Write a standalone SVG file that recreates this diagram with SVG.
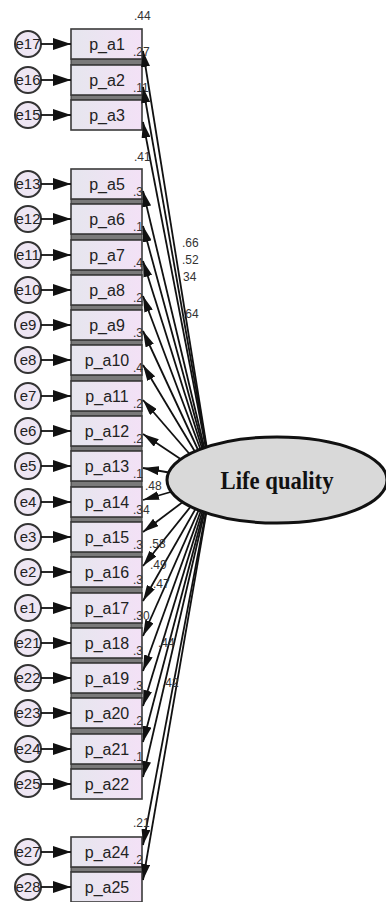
<svg xmlns="http://www.w3.org/2000/svg" width="386" height="902" viewBox="0 0 386 902">
<style>
.bx{fill:url(#bg);stroke:#3a3a3a;stroke-width:1.6}
.gp{fill:#7a7a7a;stroke:#333;stroke-width:1}
.bt{font-family:"Liberation Sans",Arial,sans-serif;font-size:16px;fill:#222;text-anchor:middle}
.ec{fill:#eee6f3;stroke:#333;stroke-width:2}
.et{font-family:"Liberation Sans",Arial,sans-serif;font-size:15px;fill:#222;text-anchor:middle}
.ea{stroke:#111;stroke-width:1.8;fill:none;marker-end:url(#big)}
.pl{stroke:#111;stroke-width:1.8;fill:none;marker-end:url(#pa)}
.sm{font-family:"Liberation Sans",Arial,sans-serif;font-size:12px;fill:#333}
</style>
<defs>
<linearGradient id="bg" x1="0" y1="0" x2="1" y2="0">
<stop offset="0" stop-color="#e6e6ee"/>
<stop offset="1" stop-color="#f3e1f6"/>
</linearGradient>
<marker id="big" viewBox="0 0 18 12" refX="18" refY="6" markerWidth="18" markerHeight="12" markerUnits="userSpaceOnUse" orient="auto">
<path d="M0,0 L18,6 L0,12 z" fill="#111"/>
</marker>
<marker id="pa" viewBox="0 0 16 9" refX="16" refY="4.5" markerWidth="16" markerHeight="9" markerUnits="userSpaceOnUse" orient="auto">
<path d="M0,0 L16,4.5 L0,9 z" fill="#111"/>
</marker>
</defs>

<g id="gaps">
<rect class="gp" x="71" y="59" width="71" height="6"/>
<rect class="gp" x="71" y="95" width="71" height="5"/>
<rect class="gp" x="71" y="199" width="71" height="5"/>
<rect class="gp" x="71" y="234" width="71" height="6"/>
<rect class="gp" x="71" y="270" width="71" height="5"/>
<rect class="gp" x="71" y="305" width="71" height="5"/>
<rect class="gp" x="71" y="340" width="71" height="5"/>
<rect class="gp" x="71" y="375" width="71" height="6"/>
<rect class="gp" x="71" y="411" width="71" height="5"/>
<rect class="gp" x="71" y="446" width="71" height="5"/>
<rect class="gp" x="71" y="481" width="71" height="6"/>
<rect class="gp" x="71" y="517" width="71" height="5"/>
<rect class="gp" x="71" y="552" width="71" height="5"/>
<rect class="gp" x="71" y="587" width="71" height="6"/>
<rect class="gp" x="71" y="623" width="71" height="5"/>
<rect class="gp" x="71" y="658" width="71" height="5"/>
<rect class="gp" x="71" y="693" width="71" height="5"/>
<rect class="gp" x="71" y="728" width="71" height="6"/>
<rect class="gp" x="71" y="764" width="71" height="5"/>
<rect class="gp" x="71" y="867" width="71" height="5"/>
</g>

<g id="p_a1"><rect class="bx" x="71" y="29" width="71" height="30"/><text class="bt" x="107" y="50">p_a1</text><text class="sm" x="133" y="56">.27</text></g>
<g id="p_a2"><rect class="bx" x="71" y="65" width="71" height="30"/><text class="bt" x="107" y="86">p_a2</text><text class="sm" x="133" y="92">.11</text></g>
<g id="p_a3"><rect class="bx" x="71" y="100" width="71" height="30"/><text class="bt" x="107" y="121">p_a3</text></g>
<g id="p_a5"><rect class="bx" x="71" y="169" width="71" height="30"/><text class="bt" x="107" y="190">p_a5</text><text class="sm" x="133" y="196">.3</text></g>
<g id="p_a6"><rect class="bx" x="71" y="204" width="71" height="30"/><text class="bt" x="107" y="225">p_a6</text><text class="sm" x="133" y="231">.1</text></g>
<g id="p_a7"><rect class="bx" x="71" y="240" width="71" height="30"/><text class="bt" x="107" y="261">p_a7</text><text class="sm" x="133" y="267">.4</text></g>
<g id="p_a8"><rect class="bx" x="71" y="275" width="71" height="30"/><text class="bt" x="107" y="296">p_a8</text><text class="sm" x="133" y="302">.2</text></g>
<g id="p_a9"><rect class="bx" x="71" y="310" width="71" height="30"/><text class="bt" x="107" y="331">p_a9</text><text class="sm" x="133" y="337">.3</text></g>
<g id="p_a10"><rect class="bx" x="71" y="345" width="71" height="30"/><text class="bt" x="107" y="366">p_a10</text><text class="sm" x="133" y="372">.4</text></g>
<g id="p_a11"><rect class="bx" x="71" y="381" width="71" height="30"/><text class="bt" x="107" y="402">p_a11</text><text class="sm" x="133" y="408">.2</text></g>
<g id="p_a12"><rect class="bx" x="71" y="416" width="71" height="30"/><text class="bt" x="107" y="437">p_a12</text><text class="sm" x="133" y="443">.2</text></g>
<g id="p_a13"><rect class="bx" x="71" y="451" width="71" height="30"/><text class="bt" x="107" y="472">p_a13</text><text class="sm" x="133" y="478">.1</text></g>
<g id="p_a14"><rect class="bx" x="71" y="487" width="71" height="30"/><text class="bt" x="107" y="508">p_a14</text><text class="sm" x="133" y="514">.34</text></g>
<g id="p_a15"><rect class="bx" x="71" y="522" width="71" height="30"/><text class="bt" x="107" y="543">p_a15</text><text class="sm" x="133" y="549">.3</text></g>
<g id="p_a16"><rect class="bx" x="71" y="557" width="71" height="30"/><text class="bt" x="107" y="578">p_a16</text><text class="sm" x="133" y="584">.3</text></g>
<g id="p_a17"><rect class="bx" x="71" y="593" width="71" height="30"/><text class="bt" x="107" y="614">p_a17</text><text class="sm" x="133" y="620">.30</text></g>
<g id="p_a18"><rect class="bx" x="71" y="628" width="71" height="30"/><text class="bt" x="107" y="649">p_a18</text><text class="sm" x="133" y="655">.3</text></g>
<g id="p_a19"><rect class="bx" x="71" y="663" width="71" height="30"/><text class="bt" x="107" y="684">p_a19</text><text class="sm" x="133" y="690">.3</text></g>
<g id="p_a20"><rect class="bx" x="71" y="698" width="71" height="30"/><text class="bt" x="107" y="719">p_a20</text><text class="sm" x="133" y="725">.2</text></g>
<g id="p_a21"><rect class="bx" x="71" y="734" width="71" height="30"/><text class="bt" x="107" y="755">p_a21</text><text class="sm" x="133" y="761">.1</text></g>
<g id="p_a22"><rect class="bx" x="71" y="769" width="71" height="30"/><text class="bt" x="107" y="790">p_a22</text></g>
<g id="p_a24"><rect class="bx" x="71" y="837" width="71" height="30"/><text class="bt" x="107" y="858">p_a24</text><text class="sm" x="133" y="864">.2</text></g>
<g id="p_a25"><rect class="bx" x="71" y="872" width="71" height="30"/><text class="bt" x="107" y="893">p_a25</text></g>

<g id="e17"><circle class="ec" cx="28" cy="44" r="13"/><text class="et" x="28" y="49">e17</text></g>
<g id="e16"><circle class="ec" cx="28" cy="80" r="13"/><text class="et" x="28" y="85">e16</text></g>
<g id="e15"><circle class="ec" cx="28" cy="115" r="13"/><text class="et" x="28" y="120">e15</text></g>
<g id="e13"><circle class="ec" cx="28" cy="184" r="13"/><text class="et" x="28" y="189">e13</text></g>
<g id="e12"><circle class="ec" cx="28" cy="219" r="13"/><text class="et" x="28" y="224">e12</text></g>
<g id="e11"><circle class="ec" cx="28" cy="255" r="13"/><text class="et" x="28" y="260">e11</text></g>
<g id="e10"><circle class="ec" cx="28" cy="290" r="13"/><text class="et" x="28" y="295">e10</text></g>
<g id="e9"><circle class="ec" cx="28" cy="325" r="13"/><text class="et" x="28" y="330">e9</text></g>
<g id="e8"><circle class="ec" cx="28" cy="360" r="13"/><text class="et" x="28" y="365">e8</text></g>
<g id="e7"><circle class="ec" cx="28" cy="396" r="13"/><text class="et" x="28" y="401">e7</text></g>
<g id="e6"><circle class="ec" cx="28" cy="431" r="13"/><text class="et" x="28" y="436">e6</text></g>
<g id="e5"><circle class="ec" cx="28" cy="466" r="13"/><text class="et" x="28" y="471">e5</text></g>
<g id="e4"><circle class="ec" cx="28" cy="502" r="13"/><text class="et" x="28" y="507">e4</text></g>
<g id="e3"><circle class="ec" cx="28" cy="537" r="13"/><text class="et" x="28" y="542">e3</text></g>
<g id="e2"><circle class="ec" cx="28" cy="572" r="13"/><text class="et" x="28" y="577">e2</text></g>
<g id="e1"><circle class="ec" cx="28" cy="608" r="13"/><text class="et" x="28" y="613">e1</text></g>
<g id="e21"><circle class="ec" cx="28" cy="643" r="13"/><text class="et" x="28" y="648">e21</text></g>
<g id="e22"><circle class="ec" cx="28" cy="678" r="13"/><text class="et" x="28" y="683">e22</text></g>
<g id="e23"><circle class="ec" cx="28" cy="713" r="13"/><text class="et" x="28" y="718">e23</text></g>
<g id="e24"><circle class="ec" cx="28" cy="749" r="13"/><text class="et" x="28" y="754">e24</text></g>
<g id="e25"><circle class="ec" cx="28" cy="784" r="13"/><text class="et" x="28" y="789">e25</text></g>
<g id="e27"><circle class="ec" cx="28" cy="852" r="13"/><text class="et" x="28" y="857">e27</text></g>
<g id="e28"><circle class="ec" cx="28" cy="887" r="13"/><text class="et" x="28" y="892">e28</text></g>

<g id="connectors">
<line class="ea" x1="41" y1="44" x2="71" y2="44"/>
<line class="ea" x1="41" y1="80" x2="71" y2="80"/>
<line class="ea" x1="41" y1="115" x2="71" y2="115"/>
<line class="ea" x1="41" y1="184" x2="71" y2="184"/>
<line class="ea" x1="41" y1="219" x2="71" y2="219"/>
<line class="ea" x1="41" y1="255" x2="71" y2="255"/>
<line class="ea" x1="41" y1="290" x2="71" y2="290"/>
<line class="ea" x1="41" y1="325" x2="71" y2="325"/>
<line class="ea" x1="41" y1="360" x2="71" y2="360"/>
<line class="ea" x1="41" y1="396" x2="71" y2="396"/>
<line class="ea" x1="41" y1="431" x2="71" y2="431"/>
<line class="ea" x1="41" y1="466" x2="71" y2="466"/>
<line class="ea" x1="41" y1="502" x2="71" y2="502"/>
<line class="ea" x1="41" y1="537" x2="71" y2="537"/>
<line class="ea" x1="41" y1="572" x2="71" y2="572"/>
<line class="ea" x1="41" y1="608" x2="71" y2="608"/>
<line class="ea" x1="41" y1="643" x2="71" y2="643"/>
<line class="ea" x1="41" y1="678" x2="71" y2="678"/>
<line class="ea" x1="41" y1="713" x2="71" y2="713"/>
<line class="ea" x1="41" y1="749" x2="71" y2="749"/>
<line class="ea" x1="41" y1="784" x2="71" y2="784"/>
<line class="ea" x1="41" y1="852" x2="71" y2="852"/>
<line class="ea" x1="41" y1="887" x2="71" y2="887"/>

<line class="pl" x1="212" y1="480" x2="143" y2="51"/>
<line class="pl" x1="212" y1="480" x2="143" y2="87"/>
<line class="pl" x1="212" y1="480" x2="143" y2="122"/>
<line class="pl" x1="212" y1="480" x2="143" y2="191"/>
<line class="pl" x1="212" y1="480" x2="143" y2="226"/>
<line class="pl" x1="212" y1="480" x2="143" y2="261"/>
<line class="pl" x1="212" y1="480" x2="143" y2="296"/>
<line class="pl" x1="212" y1="480" x2="143" y2="331"/>
<line class="pl" x1="212" y1="480" x2="143" y2="365"/>
<line class="pl" x1="212" y1="480" x2="143" y2="400"/>
<line class="pl" x1="212" y1="480" x2="143" y2="434"/>
<line class="pl" x1="212" y1="480" x2="143" y2="468"/>
<line class="pl" x1="212" y1="480" x2="143" y2="500"/>
<line class="pl" x1="212" y1="480" x2="143" y2="532"/>
<line class="pl" x1="212" y1="480" x2="143" y2="566"/>
<line class="pl" x1="212" y1="480" x2="143" y2="601"/>
<line class="pl" x1="212" y1="480" x2="143" y2="636"/>
<line class="pl" x1="212" y1="480" x2="143" y2="671"/>
<line class="pl" x1="212" y1="480" x2="143" y2="706"/>
<line class="pl" x1="212" y1="480" x2="143" y2="742"/>
<line class="pl" x1="212" y1="480" x2="143" y2="777"/>
<line class="pl" x1="212" y1="480" x2="143" y2="845"/>
<line class="pl" x1="212" y1="480" x2="143" y2="880"/>
</g>

<g id="life_quality">
<ellipse cx="277" cy="480" rx="110" ry="43" fill="#d9d9d9" stroke="#111" stroke-width="3"/>
<text x="277" y="489" font-family="'Liberation Serif','Times New Roman',serif" font-size="25" font-weight="bold" fill="#111" text-anchor="middle" textLength="113" lengthAdjust="spacingAndGlyphs">Life quality</text>
</g>

<g id="labels">
<text class="sm" x="134" y="20">.44</text>
<text class="sm" x="134" y="161">.41</text>
<text class="sm" x="133" y="827">.21</text>
<text class="sm" x="182" y="247">.66</text>
<text class="sm" x="182" y="264">.52</text>
<text class="sm" x="183" y="281">34</text>
<text class="sm" x="182" y="318">.64</text>
<text class="sm" x="145" y="490">.48</text>
<text class="sm" x="149" y="548">.58</text>
<text class="sm" x="150" y="569">.49</text>
<text class="sm" x="153" y="588">.47</text>
<text class="sm" x="158" y="647">.44</text>
<text class="sm" x="162" y="687">.42</text>
</g>
</svg>
